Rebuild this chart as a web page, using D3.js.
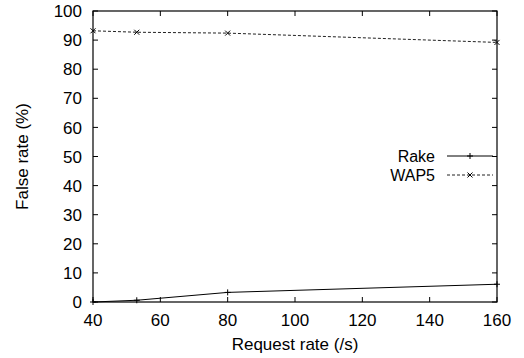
<!DOCTYPE html>
<html>
<head>
<meta charset="utf-8">
<script src="https://cdn.jsdelivr.net/npm/d3@7"></script>
<style>
  body { margin: 0; background: #fff; }
  text { font-family: "Liberation Sans", Arial, sans-serif; fill: #000; }
</style>
</head>
<body>
<script>
// values
const rates = [40, 53, 80, 160]
const rake = [0, 0.6, 3.3, 6.1]
const wap5 = [93.2, 92.7, 92.4, 89.2]
const xTicks = [40, 60, 80, 100, 120, 140, 160]
const yTicks = [0, 10, 20, 30, 40, 50, 60, 70, 80, 90, 100]
const seriesNames = ["Rake", "WAP5"]

var width = 524
var height = 358
var margin = { left: 93, right: 27, top: 11, bottom: 56 }
var fs = "17px"

var svg = d3.select("body").append("svg")
  .attr("width", width)
  .attr("height", height)

var x = d3.scaleLinear().domain([40, 160]).range([margin.left, width - margin.right])
var y = d3.scaleLinear().domain([0, 100]).range([height - margin.bottom, margin.top])

var tickLen = 5

// ticks on all four sides, pointing inward (gnuplot style)
var g = svg.append("g").attr("stroke", "#000").attr("stroke-width", 1)
xTicks.forEach(function (t) {
  g.append("line").attr("x1", x(t)).attr("x2", x(t)).attr("y1", y(0)).attr("y2", y(0) - tickLen)
  g.append("line").attr("x1", x(t)).attr("x2", x(t)).attr("y1", y(100)).attr("y2", y(100) + tickLen)
})
yTicks.forEach(function (t) {
  g.append("line").attr("x1", x(40)).attr("x2", x(40) + tickLen).attr("y1", y(t)).attr("y2", y(t))
  g.append("line").attr("x1", x(160)).attr("x2", x(160) - tickLen).attr("y1", y(t)).attr("y2", y(t))
})

svg.append("rect")
  .attr("x", x(40)).attr("y", y(100))
  .attr("width", x(160) - x(40)).attr("height", y(0) - y(100))
  .attr("fill", "none").attr("stroke", "#000").attr("stroke-width", 1.2)

svg.selectAll(".xl").data(xTicks).enter().append("text")
  .attr("x", function (d) { return x(d) })
  .attr("y", y(0) + 24)
  .attr("text-anchor", "middle")
  .style("font-size", fs)
  .text(function (d) { return d })

svg.selectAll(".yl").data(yTicks).enter().append("text")
  .attr("x", x(40) - 11)
  .attr("y", function (d) { return y(d) })
  .attr("dy", "0.36em")
  .attr("text-anchor", "end")
  .style("font-size", fs)
  .text(function (d) { return d })

svg.append("text")
  .attr("x", (x(40) + x(160)) / 2)
  .attr("y", 350)
  .attr("text-anchor", "middle")
  .style("font-size", fs)
  .text("Request rate (/s)")

svg.append("text")
  .attr("transform", "translate(28," + ((y(0) + y(100)) / 2) + ") rotate(-90)")
  .attr("text-anchor", "middle")
  .style("font-size", fs)
  .text("False rate (%)")

var line = d3.line()
  .x(function (d) { return x(d[0]) })
  .y(function (d) { return y(d[1]) })

var rakePts = rates.map(function (r, i) { return [r, rake[i]] })
var wapPts = rates.map(function (r, i) { return [r, wap5[i]] })

svg.append("path").attr("d", line(rakePts))
  .attr("fill", "none").attr("stroke", "#000").attr("stroke-width", 1)
svg.append("path").attr("d", line(wapPts))
  .attr("fill", "none").attr("stroke", "#222").attr("stroke-width", 1)
  .attr("stroke-dasharray", "3,2")

function plus(px, py) {
  svg.append("path").attr("d", "M" + (px - 3) + "," + py + "h6M" + px + "," + (py - 3) + "v6")
    .attr("stroke", "#000").attr("stroke-width", 1)
}
function cross(px, py) {
  svg.append("path").attr("d", "M" + (px - 2.5) + "," + (py - 2.5) + "l5,5M" + (px - 2.5) + "," + (py + 2.5) + "l5,-5")
    .attr("stroke", "#000").attr("stroke-width", 1)
}
rakePts.forEach(function (d) { plus(x(d[0]), y(d[1])) })
wapPts.forEach(function (d) { cross(x(d[0]), y(d[1])) })

// legend
var legY = [156, 175]
seriesNames.forEach(function (name, i) {
  svg.append("text")
    .attr("x", 435).attr("y", legY[i]).attr("dy", "0.36em")
    .attr("text-anchor", "end")
    .style("font-size", "16px")
    .text(name)
  var ln = svg.append("line")
    .attr("x1", 447).attr("x2", 493).attr("y1", legY[i]).attr("y2", legY[i])
    .attr("stroke", i === 0 ? "#000" : "#222").attr("stroke-width", 1)
  if (i === 1) ln.attr("stroke-dasharray", "3,2")
  if (i === 0) plus(470, legY[i]); else cross(470, legY[i])
})
</script>
</body>
</html>
